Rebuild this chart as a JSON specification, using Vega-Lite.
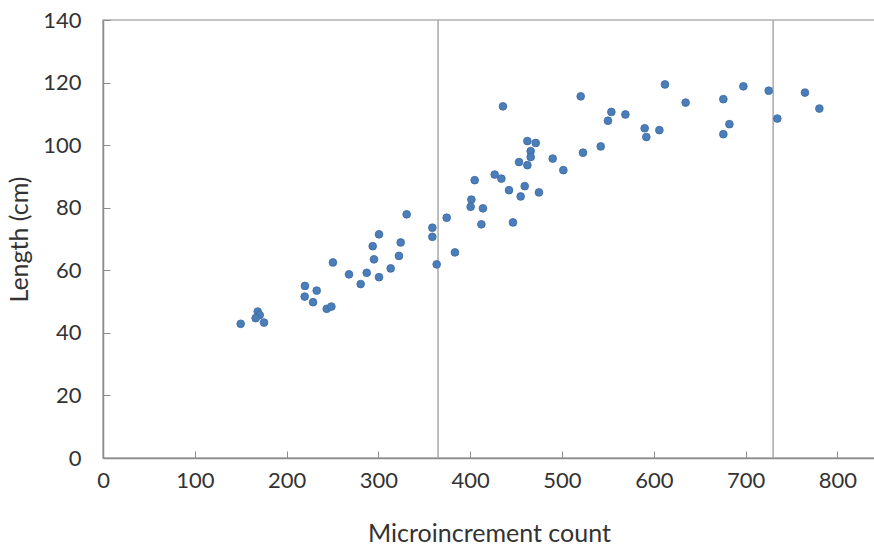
{
  "$schema": "https://vega.github.io/schema/vega-lite/v6.json",
  "width": 772,
  "height": 438,
  "autosize": {"type": "none"},
  "padding": {"left": 103, "top": 20, "right": 0, "bottom": 87},
  "background": "white",
  "config": {
    "view": {"stroke": "#b0b0b0", "strokeWidth": 1.5},
    "font": "Lato"
  },
  "datasets": {
    "points": [
      {"count": 150.0, "length": 42.9},
      {"count": 168.5, "length": 46.8},
      {"count": 170.7, "length": 45.7},
      {"count": 166.3, "length": 44.7},
      {"count": 175.4, "length": 43.3},
      {"count": 220.0, "length": 55.0},
      {"count": 232.8, "length": 53.5},
      {"count": 219.7, "length": 51.6},
      {"count": 228.8, "length": 49.8},
      {"count": 243.7, "length": 47.7},
      {"count": 248.8, "length": 48.4},
      {"count": 250.5, "length": 62.5},
      {"count": 268.0, "length": 58.7},
      {"count": 280.7, "length": 55.6},
      {"count": 287.3, "length": 59.2},
      {"count": 295.2, "length": 63.5},
      {"count": 300.7, "length": 57.8},
      {"count": 313.4, "length": 60.6},
      {"count": 322.4, "length": 64.6},
      {"count": 293.8, "length": 67.7},
      {"count": 300.7, "length": 71.5},
      {"count": 324.3, "length": 68.9},
      {"count": 330.8, "length": 77.9},
      {"count": 358.8, "length": 73.6},
      {"count": 358.8, "length": 70.7},
      {"count": 363.5, "length": 61.9},
      {"count": 374.4, "length": 76.8},
      {"count": 383.4, "length": 65.7},
      {"count": 401.3, "length": 82.6},
      {"count": 400.5, "length": 80.3},
      {"count": 404.9, "length": 88.8},
      {"count": 413.9, "length": 79.8},
      {"count": 412.2, "length": 74.7},
      {"count": 426.7, "length": 90.6},
      {"count": 434.0, "length": 89.3},
      {"count": 435.7, "length": 112.4},
      {"count": 442.3, "length": 85.6},
      {"count": 446.6, "length": 75.3},
      {"count": 455.0, "length": 83.6},
      {"count": 459.4, "length": 86.9},
      {"count": 453.2, "length": 94.6},
      {"count": 462.3, "length": 101.3},
      {"count": 471.4, "length": 100.7},
      {"count": 465.9, "length": 98.1},
      {"count": 465.9, "length": 96.2},
      {"count": 462.3, "length": 93.6},
      {"count": 474.9, "length": 84.9},
      {"count": 489.9, "length": 95.7},
      {"count": 501.5, "length": 92.0},
      {"count": 520.4, "length": 115.6},
      {"count": 612.2, "length": 119.4},
      {"count": 634.7, "length": 113.6},
      {"count": 675.8, "length": 114.7},
      {"count": 697.6, "length": 118.8},
      {"count": 725.2, "length": 117.4},
      {"count": 764.7, "length": 116.8},
      {"count": 780.4, "length": 111.7},
      {"count": 734.6, "length": 108.5},
      {"count": 682.4, "length": 106.7},
      {"count": 675.8, "length": 103.5},
      {"count": 553.8, "length": 110.6},
      {"count": 550.1, "length": 107.8},
      {"count": 569.1, "length": 109.8},
      {"count": 590.1, "length": 105.4},
      {"count": 591.9, "length": 102.6},
      {"count": 606.1, "length": 104.8},
      {"count": 542.2, "length": 99.6},
      {"count": 522.9, "length": 97.6}
    ],
    "years": [
      {"day": 365},
      {"day": 730}
    ]
  },
  "layer": [
    {
      "data": {"name": "years"},
      "mark": {"type": "rule", "color": "#a8a8a8", "strokeWidth": 1.5},
      "encoding": {
        "x": {"field": "day", "type": "quantitative", "scale": {"domain": [0, 841], "nice": false, "zero": true}}
      }
    },
    {
      "data": {"name": "points"},
      "mark": {"type": "point", "shape": "circle", "filled": true, "size": 60, "color": "#4a7ebb", "stroke": "#3d6a9e", "strokeWidth": 0.8, "opacity": 1},
      "encoding": {
        "x": {
          "field": "count",
          "type": "quantitative",
          "title": "Microincrement count",
          "scale": {"domain": [0, 841], "nice": false, "zero": true},
          "axis": {
            "values": [0, 100, 200, 300, 400, 500, 600, 700, 800],
            "grid": false,
            "domainColor": "#8c8c8c",
            "domainWidth": 1.5,
            "tickColor": "#8c8c8c",
            "tickSize": -7,
            "tickWidth": 1,
            "labelFontSize": 22,
            "labelColor": "#333333",
            "labelPadding": 19,
            "labelFlush": false,
            "titleFontSize": 25,
            "titleFontWeight": "normal",
            "titleColor": "#333333",
            "titlePadding": 30
          }
        },
        "y": {
          "field": "length",
          "type": "quantitative",
          "title": "Length (cm)",
          "scale": {"domain": [0, 140], "nice": false},
          "axis": {
            "values": [0, 20, 40, 60, 80, 100, 120, 140],
            "grid": false,
            "domainColor": "#8c8c8c",
            "domainWidth": 1.5,
            "tickColor": "#8c8c8c",
            "tickSize": -7,
            "tickWidth": 1,
            "labelFontSize": 22,
            "labelColor": "#333333",
            "labelPadding": 29,
            "labelFlush": false,
            "titleFontSize": 25,
            "titleFontWeight": "normal",
            "titleColor": "#333333",
            "titlePadding": 10
          }
        }
      }
    }
  ]
}
